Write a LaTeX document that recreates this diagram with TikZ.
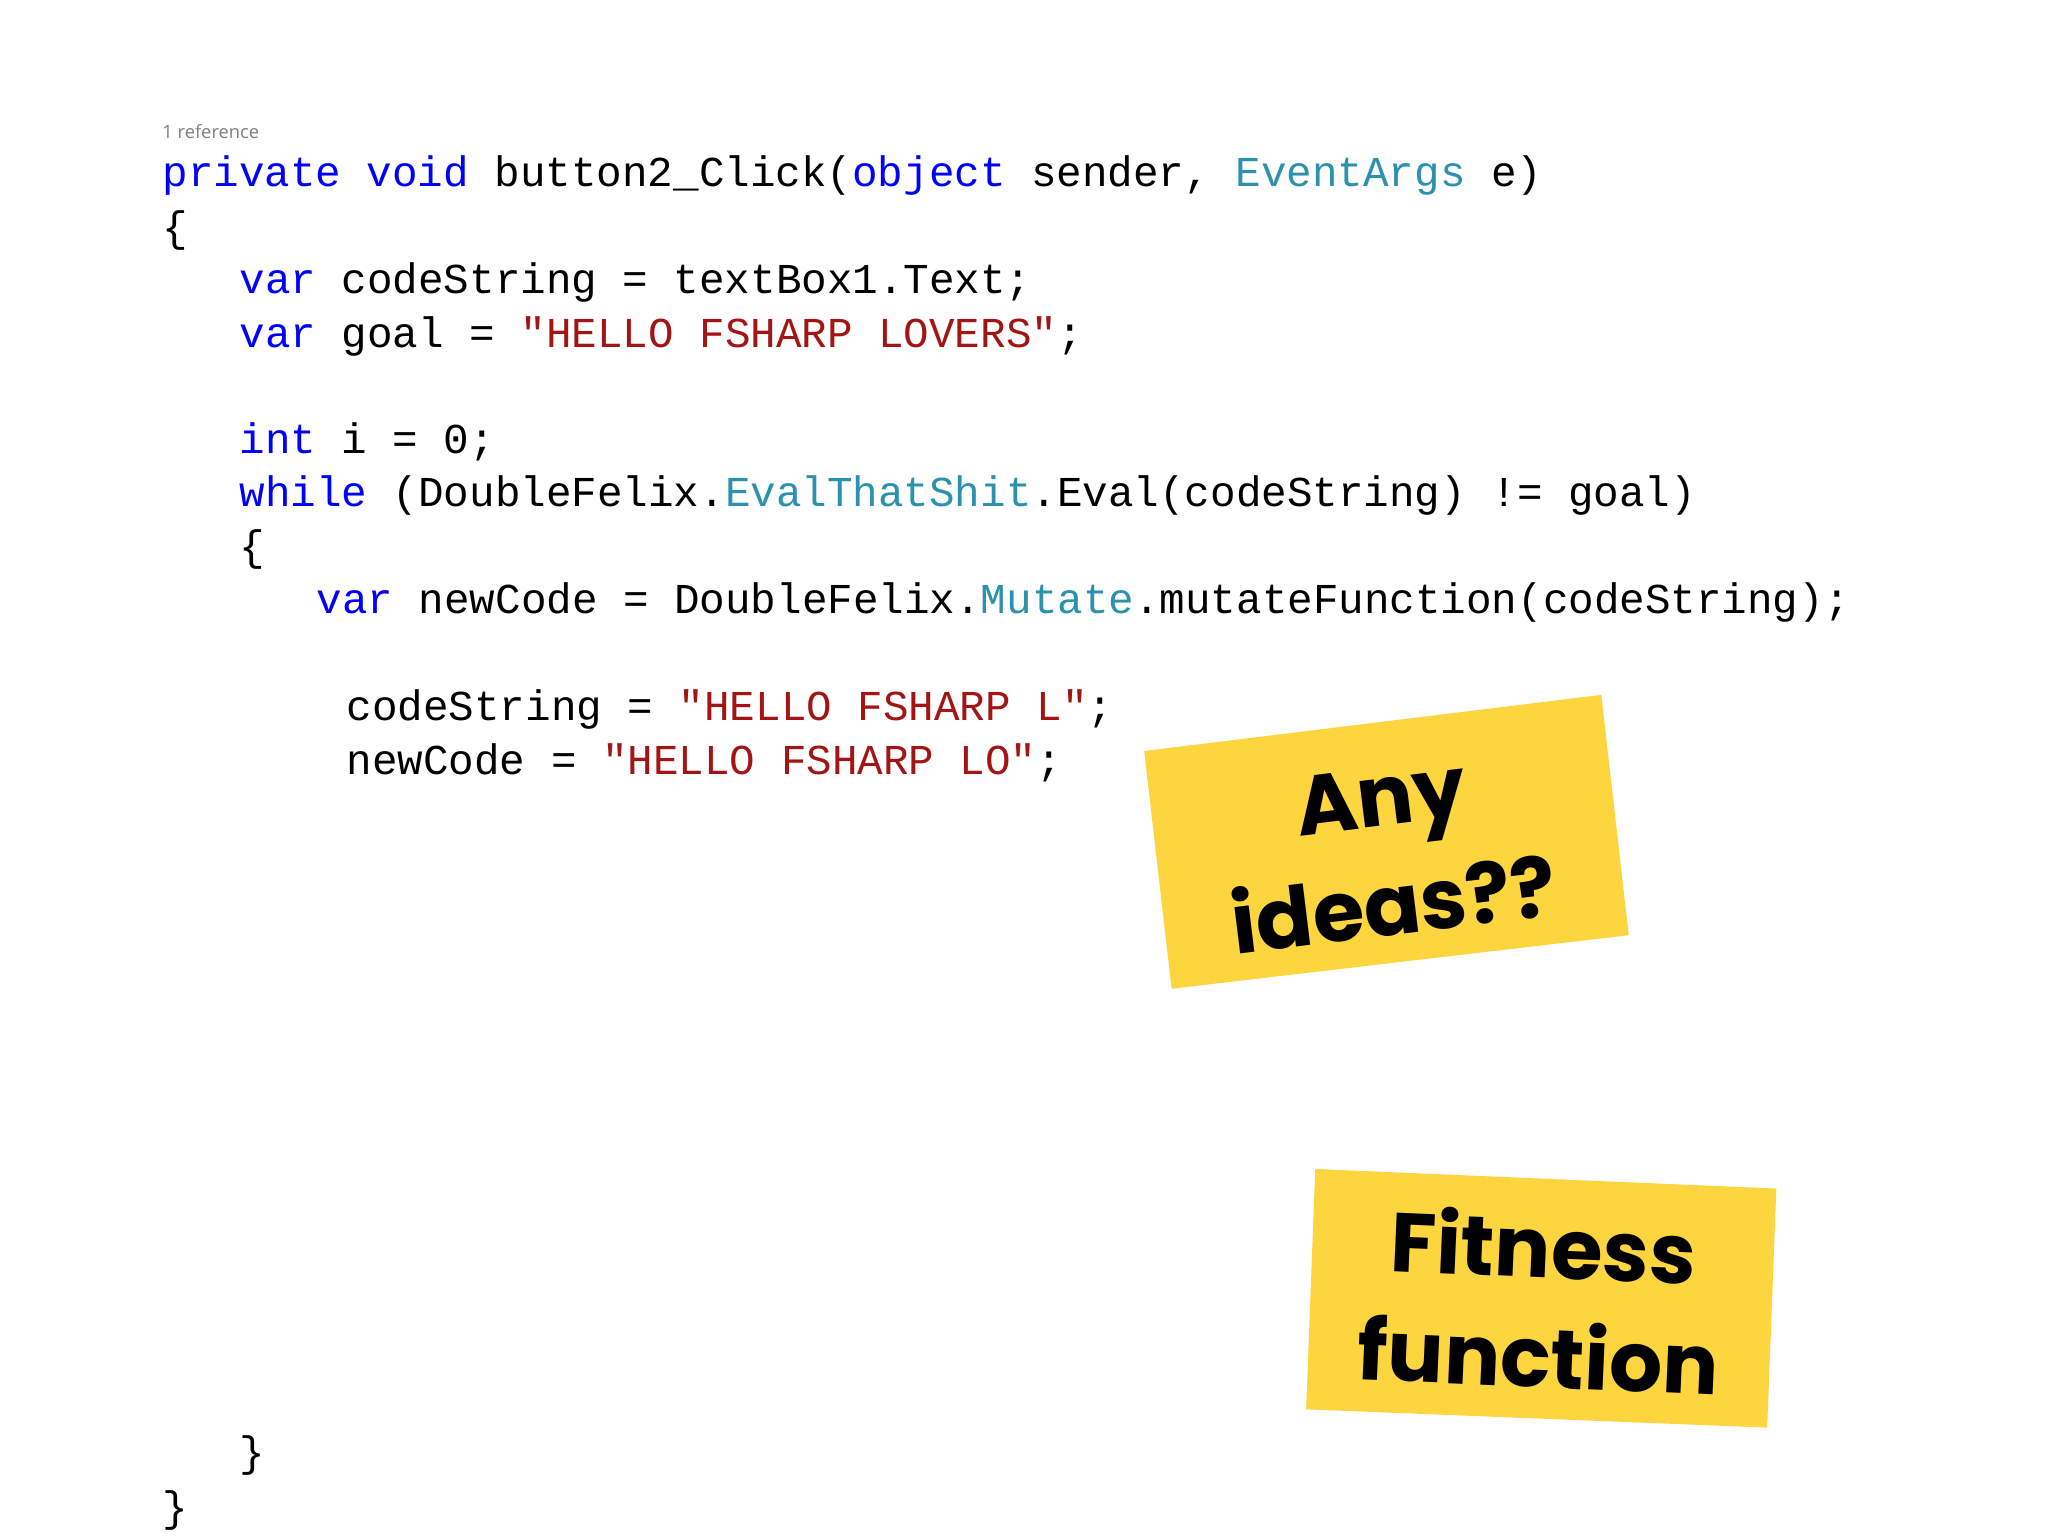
\documentclass[tikz,border=0pt]{standalone}
\usepackage{fontspec}
\setmonofont{Liberation Mono}
\newfontfamily\notefont{Poppins}
\newfontfamily\smallfont{Open Sans}
\definecolor{kw}{RGB}{0,0,255}
\definecolor{ty}{RGB}{43,145,175}
\definecolor{st}{RGB}{163,21,21}
\definecolor{note}{RGB}{253,213,63}
\tikzset{code/.style={anchor=base west,inner sep=0,font=\ttfamily\fontsize{16.3}{16}\selectfont},
 notetext/.style={align=center,font=\notefont\bfseries\fontsize{32}{42}\selectfont}}
\begin{document}
\begin{tikzpicture}[x=0.5pt,y=-0.5pt]
\fill[white] (0,0) rectangle (1568,1176);
\useasboundingbox (0,0) rectangle (1568,1176);
\node[anchor=base west,inner sep=0,text=gray,font=\smallfont\fontsize{7}{7}\selectfont] (ref) at (124,106) {1 reference};
\node[code] (l1) at (124,143) {\textcolor{kw}{private void} button2\_Click(\textcolor{kw}{object} sender, \textcolor{ty}{EventArgs} e)};
\node[code] (l2) at (124,185) {\{};
\node[code] (l3) at (183,225) {\textcolor{kw}{var} codeString = textBox1.Text;};
\node[code] (l4) at (183,266) {\textcolor{kw}{var} goal = \textcolor{st}{"HELLO FSHARP LOVERS"};};
\node[code] (l5) at (183,347) {\textcolor{kw}{int} i = 0;};
\node[code] (l6) at (183,388) {\textcolor{kw}{while} (DoubleFelix.\textcolor{ty}{EvalThatShit}.Eval(codeString) != goal)};
\node[code] (l7) at (183,429) {\{};
\node[code] (l8) at (242,470) {\textcolor{kw}{var} newCode = DoubleFelix.\textcolor{ty}{Mutate}.mutateFunction(codeString);};
\node[code] (l9) at (265,552) {codeString = \textcolor{st}{"HELLO FSHARP L"};};
\node[code] (l10) at (265,593) {newCode = \textcolor{st}{"HELLO FSHARP LO"};};
\node[code] (l11) at (183,1123) {\}};
\node[code] (l12) at (124,1165) {\}};
\fill[note] (876,575) -- (1226,532) -- (1247,716) -- (897,757) -- cycle;
\node[notetext,rotate=7] (n1) at (1062,652) {Any\\ideas??};
\fill[note] (1007,895) -- (1360,910) -- (1353,1093) -- (1000,1079) -- cycle;
\node[notetext,rotate=-2.5] (n2) at (1180,995) {Fitness\\function};
\end{tikzpicture}
\end{document}
